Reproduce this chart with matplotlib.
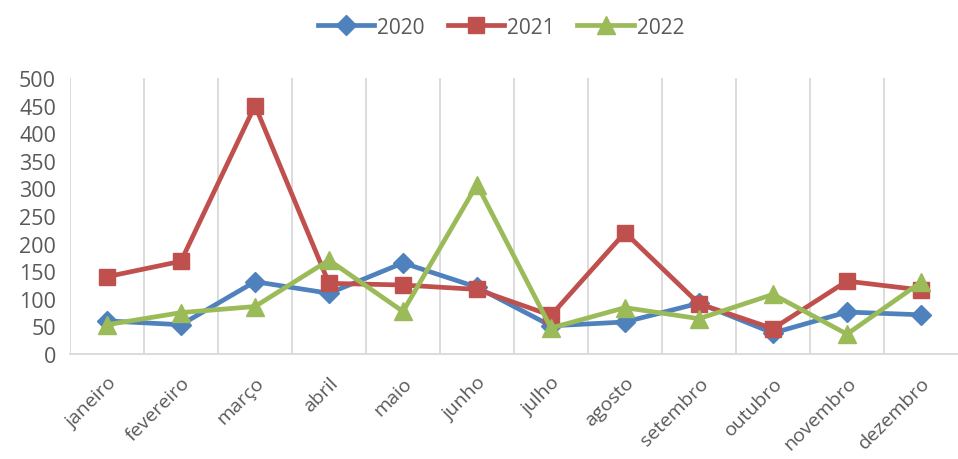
import matplotlib
matplotlib.use("Agg")
import matplotlib.pyplot as plt

months = ["janeiro", "fevereiro", "março", "abril", "maio", "junho",
          "julho", "agosto", "setembro", "outubro", "novembro", "dezembro"]
s2020 = [60, 53, 131, 110, 165, 121, 51, 58, 92, 38, 76, 71]
s2021 = [140, 168, 450, 128, 125, 117, 70, 220, 91, 46, 132, 116]
s2022 = [53, 75, 86, 170, 77, 307, 47, 84, 64, 108, 36, 130]
series_names = ["2020", "2021", "2022"]

plt.rcParams['font.family'] = ['Open Sans', 'DejaVu Sans']
txt = "#595959"
grid = "#D9D9D9"

fig = plt.figure(figsize=(9.58, 4.6), dpi=100)
ax = fig.add_axes([70/958, 1-355/460, 888/958, 276/460])

x = list(range(len(months)))
ax.plot(x, s2020, color="#4F81BD", lw=3.4, marker="D", ms=10, label=series_names[0], zorder=3)
ax.plot(x, s2021, color="#C0504D", lw=3.4, marker="s", ms=12, label=series_names[1], zorder=3)
ax.plot(x, s2022, color="#9BBB59", lw=3.4, marker="^", ms=13, label=series_names[2], zorder=3)

ax.set_xlim(-0.5, len(months) - 0.5)
ax.set_ylim(0, 500)
ax.set_yticks(range(0, 501, 50))
ax.set_xticks(x)
ax.set_xticklabels(months, rotation=45, ha="right", rotation_mode="anchor",
                   fontsize=14, color=txt)
ax.tick_params(axis="x", length=0, pad=14)
ax.tick_params(axis="y", length=0, labelsize=15.5, labelcolor=txt, pad=10)

for b in [i + 0.5 for i in range(len(months) - 1)]:
    ax.axvline(b, color=grid, lw=1.3, zorder=1)
ax.axvline(-0.5, color=grid, lw=1.3, zorder=1)

for side in ["top", "right", "left"]:
    ax.spines[side].set_visible(False)
ax.spines["bottom"].set_color(grid)
ax.spines["bottom"].set_linewidth(1.3)

leg = fig.legend(loc="center", bbox_to_anchor=(501/958, 1-28/460), ncol=3,
                 frameon=False, fontsize=15, handlelength=2.7, columnspacing=1.1,
                 handletextpad=0.15)
for t in leg.get_texts():
    t.set_color(txt)

fig.savefig("out.png", dpi=100)
